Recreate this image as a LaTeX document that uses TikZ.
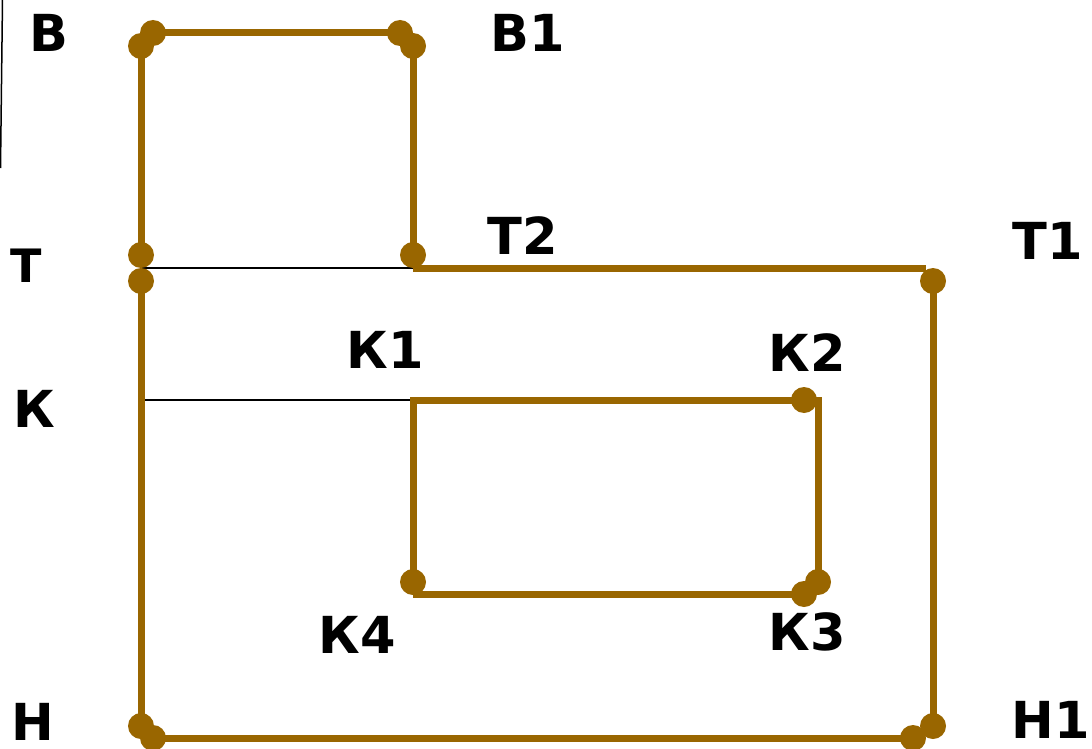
\documentclass[tikz,border=0pt]{standalone}
\usepackage{fontspec}
\setmainfont{DejaVu Sans}
\usepackage{tikz}
\definecolor{rod}{RGB}{153,102,0}
\tikzset{
  wire/.style={draw=rod, line width=7pt},
  thin line/.style={draw=black, line width=1.5pt},
  pin/.style={circle, fill=rod, inner sep=0pt, minimum size=26pt},
  lbl/.style={inner sep=0pt, text depth=0pt, font=\fontsize{51}{60}\selectfont\bfseries}
}

\begin{document}
\begin{tikzpicture}[x=1pt,y=-1pt]
    \useasboundingbox (0,0) rectangle (1092,749);
    % left edge stroke
    \draw[line width=1.5pt] (2.5,0) -- (0.5,168);

    % pin points
    \coordinate (vA) at (153,33);
    \coordinate (vB) at (400,33);
    \coordinate (vC) at (141,46);
    \coordinate (vD) at (141,255);
    \coordinate (vE) at (413,46);
    \coordinate (vF) at (413,255);
    \coordinate (tA) at (141,281);
    \coordinate (tB) at (933,281);
    \coordinate (hA) at (141,726);
    \coordinate (hB) at (933,726);
    \coordinate (hC) at (153,738);
    \coordinate (hD) at (913,738);
    \coordinate (kA) at (413,582);
    \coordinate (kB) at (804,400);
    \coordinate (kC) at (818,582);
    \coordinate (kD) at (804,594);
    % free ends
    \coordinate (tL) at (141,268);
    \coordinate (tM) at (413,268);
    \coordinate (tR) at (926,268);
    \coordinate (kL) at (141,400);
    \coordinate (kM) at (410,400);
    \coordinate (kTR) at (818,397);
    \coordinate (kTL) at (413,397);
    \coordinate (kBL) at (413,594);

    % thin lines
    \draw[thin line] (tL) -- (tM);
    \draw[thin line] (kL) -- (kM);

    % rods
    \draw[wire] (vA) -- (vB);
    \draw[wire] (vC) -- (vD);
    \draw[wire] (vE) -- (vF);
    \draw[wire] (tM) -- (tR);
    \draw[wire] (tA) -- (hA);
    \draw[wire] (tB) -- (hB);
    \draw[wire] (hC) -- (hD);
    \draw[wire] (kM) -- (kB);
    \draw[wire] (kTR) -- (kC);
    \draw[wire] (kTL) -- (kA);
    \draw[wire] (kBL) -- (kD);

    \foreach \p in {vA,vB,vC,vD,vE,vF,tA,tB,hA,hB,hC,hD,kA,kB,kC,kD}
      \node[pin] (\p-pin) at (\p) {};

    % labels
    \node[lbl] (B)  at (49,33)    {В};
    \node[lbl] (B1) at (528,33)   {В1};
    \node[lbl, font=\fontsize{46}{54}\selectfont\bfseries] (T) at (26,266) {Т};
    \node[lbl] (T2) at (523,236)  {Т2};
    \node[lbl] (T1) at (1048,241) {Т1};
    \node[lbl] (K)  at (34,409)   {К};
    \node[lbl] (K1) at (385,350)  {К1};
    \node[lbl] (K2) at (807,353)  {К2};
    \node[lbl] (K4) at (357,635)  {К4};
    \node[lbl] (K3) at (807,632)  {К3};
    \node[lbl] (H)  at (33,722)   {Н};
    \node[lbl] (H1) at (1051,720) {Н1};
\end{tikzpicture}
\end{document}
